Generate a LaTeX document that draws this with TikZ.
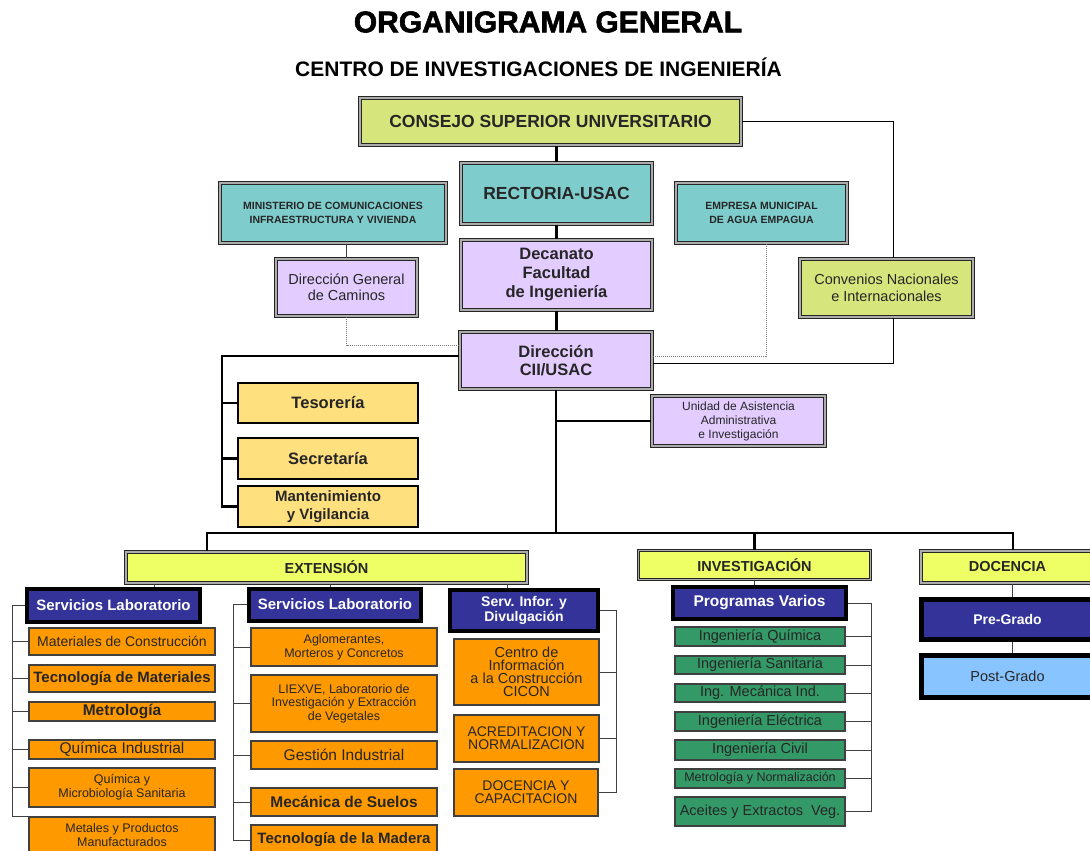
\documentclass[tikz,border=0pt]{standalone}
\usepackage{fontspec}
\setmainfont{Liberation Sans}
\newfontfamily\gruesa[FakeBold=2]{Liberation Sans Bold}
\usetikzlibrary{positioning,calc}

\definecolor{verdeclaro}{HTML}{D6E67C}
\definecolor{turquesa}{HTML}{7FCCCC}
\definecolor{lila}{HTML}{E3CCFF}
\definecolor{crema}{HTML}{FFE07F}
\definecolor{amarillo}{HTML}{EEFF66}
\definecolor{azul}{HTML}{333399}
\definecolor{naranja}{HTML}{FF9900}
\definecolor{verde}{HTML}{339966}
\definecolor{celeste}{HTML}{88C4FF}

\newcommand{\fz}[2]{\fontsize{#1}{#2}\selectfont}

\begin{document}
\begin{tikzpicture}[x=1pt,y=-1pt]
                        \tikzstyle{every node}=[inner sep=0,align=center,text=black!85]
                        \tikzstyle{doble}=[draw=black!85,double=gray!65,double distance=1.3pt,line width=1.1pt]
                        \tikzstyle{grueso}=[draw=black,line width=2.6pt,fill=crema,minimum width=180]
                        \tikzstyle{marco}=[draw=black,line width=4pt,fill=azul,text=white]
                        \tikzstyle{caja}=[draw=black!75,line width=1.1pt,fill=naranja]
                        \tikzstyle{prog}=[draw=black!75,line width=1.1pt,fill=verde,minimum width=170,font=\fz{14.5}{15}]
                        \tikzstyle{nivel}=[doble,fill=amarillo,font=\fz{14.5}{16}\bfseries]
                        \tikzstyle{tronco}=[draw=black,line width=2.6pt]
                        \tikzstyle{rama}=[draw=black!75,line width=0.9pt]
                        \tikzstyle{punteado}=[draw=gray,line width=0.9pt,dash pattern=on 1pt off 1pt]
                        {
                            \useasboundingbox (0,0) rectangle (1090,851);

                            \node[font=\fz{30}{32}\gruesa,text=black] (titulo) at (548,22) {ORGANIGRAMA GENERAL};
                            \node[font=\fz{21}{24}\bfseries,text=black] (subtitulo) at (538.5,67) {CENTRO DE INVESTIGACIONES DE INGENIERÍA};

                            % autoridades
                            \node[doble,fill=verdeclaro,minimum width=381,minimum height=47,font=\fz{17.5}{20}\bfseries] (consejo) at (550.5,121.5) {CONSEJO SUPERIOR UNIVERSITARIO};
                            \node[doble,fill=turquesa,minimum width=191,minimum height=61,font=\fz{17.5}{20}\bfseries] (rectoria) at (556.5,193.5) {RECTORIA-USAC};
                            \node[doble,fill=lila,minimum width=191,minimum height=70,font=\fz{16.5}{19}\bfseries] (decanato) at (556.5,275) {Decanato\\Facultad\\de Ingeniería};
                            \node[doble,fill=lila,minimum width=192,minimum height=57,font=\fz{16.5}{18}\bfseries] (direccion) at (556,360.5) {Dirección\\CII/USAC};
                            \node[doble,fill=turquesa,minimum width=226,minimum height=60,font=\fz{10.5}{14}\bfseries] (ministerio) at (333,213) {MINISTERIO DE COMUNICACIONES\\INFRAESTRUCTURA Y VIVIENDA};
                            \node[doble,fill=lila,minimum width=141,minimum height=57,font=\fz{14.5}{16}] (caminos) at (346.5,287.5) {Dirección General\\de Caminos};
                            \node[doble,fill=turquesa,minimum width=171,minimum height=60,font=\fz{10.5}{14}\bfseries] (empagua) at (761.5,213) {EMPRESA MUNICIPAL\\DE AGUA EMPAGUA};
                            \node[doble,fill=verdeclaro,minimum width=173,minimum height=58,font=\fz{14.5}{17}] (convenios) at (886.5,288) {Convenios Nacionales\\e Internacionales};
                            \node[doble,fill=lila,minimum width=173,minimum height=50,font=\fz{12}{14}] (unidad) at (738.5,421) {Unidad de Asistencia\\Administrativa\\e Investigación};

                            \node[grueso,minimum height=40,font=\fz{16.5}{19}\bfseries] (tesoreria) at (328,403) {Tesorería};
                            \node[grueso,minimum height=41,font=\fz{16.5}{19}\bfseries] (secretaria) at (328,458.5) {Secretaría};
                            \node[grueso,minimum height=41,font=\fz{15}{18}\bfseries] (mantenim) at (328,506.5) {Mantenimiento\\y Vigilancia};

                            % niveles
                            \node[nivel,minimum width=401,minimum height=31] (extension) at (326.5,567.5) {EXTENSIÓN};
                            \node[nivel,minimum width=232,minimum height=29] (investigacion) at (754.5,565) {INVESTIGACIÓN};
                            \node[nivel,minimum width=173,minimum height=32] (docencia) at (1007.5,567) {DOCENCIA};

                            % extension
                            \node[marco,minimum width=173,minimum height=33,font=\fz{15}{17}\bfseries] (servlab1) at (113.5,605.5) {Servicios Laboratorio};
                            \node[caja,minimum width=186,minimum height=27,font=\fz{14}{16}] (matcons) at (122,641.5) {Materiales de Construcción};
                            \node[caja,minimum width=186,minimum height=27,font=\fz{15}{17}\bfseries] (tecmat) at (122,678.5) {Tecnología de Materiales};
                            \node[caja,minimum width=186,minimum height=19,font=\fz{15.5}{17}\bfseries] (metro) at (122,711.5) {Metrología};
                            \node[caja,minimum width=186,minimum height=19,font=\fz{15.5}{17}] (quimind) at (122,749.5) {Química Industrial};
                            \node[caja,minimum width=186,minimum height=39,font=\fz{12.5}{14}] (quimmic) at (122,787.5) {Química y\\Microbiología Sanitaria};
                            \node[caja,minimum width=186,minimum height=36,font=\fz{12.5}{14}] (metales) at (122,835) {Metales y Productos\\Manufacturados};

                            \node[marco,minimum width=172,minimum height=32,font=\fz{15}{17}\bfseries] (servlab2) at (335,604.5) {Servicios Laboratorio};
                            \node[caja,minimum width=186,minimum height=38,font=\fz{12.5}{14}] (aglo) at (344,647) {Aglomerantes,\\Morteros y Concretos};
                            \node[caja,minimum width=186,minimum height=57,font=\fz{12.5}{13.5}] (liexve) at (344,703.5) {LIEXVE, Laboratorio de\\Investigación y Extracción\\de Vegetales};
                            \node[caja,minimum width=186,minimum height=28,font=\fz{15.5}{17}] (gestion) at (344,755) {Gestión Industrial};
                            \node[caja,minimum width=186,minimum height=28,font=\fz{15.5}{17}\bfseries] (suelos) at (344,802) {Mecánica de Suelos};
                            \node[caja,minimum width=186,minimum height=30,font=\fz{15}{17}\bfseries] (madera) at (344,840) {Tecnología de la Madera};

                            \node[marco,minimum width=148,minimum height=41,font=\fz{14}{15}\bfseries] (servinfo) at (524,610.5) {Serv. Infor. y\\Divulgación};
                            \node[caja,minimum width=145,minimum height=66,font=\fz{14.5}{13}] (cicon) at (526.5,672) {Centro de\\Información\\a la Construcción\\CICON};
                            \node[caja,minimum width=145,minimum height=47,font=\fz{14}{13}] (acred) at (526.5,738.5) {ACREDITACION Y\\NORMALIZACION};
                            \node[caja,minimum width=144,minimum height=47,font=\fz{14}{13}] (docap) at (526,792.5) {DOCENCIA Y\\CAPACITACION};

                            % investigacion
                            \node[marco,minimum width=173,minimum height=32,font=\fz{15.5}{17}\bfseries] (programas) at (759.5,603) {Programas Varios};
                            \node[prog,minimum height=19] (iq) at (760,636.5) {Ingeniería Química};
                            \node[prog,minimum height=18] (isan) at (760,665) {Ingeniería Sanitaria};
                            \node[prog,minimum height=18] (imi) at (760,693) {Ing. Mecánica Ind.};
                            \node[prog,minimum height=19] (iel) at (760,721.5) {Ingeniería Eléctrica};
                            \node[prog,minimum height=20] (icv) at (760,750) {Ingeniería Civil};
                            \node[prog,minimum height=19,font=\fz{12.5}{14}] (imn) at (760,778.5) {Metrología y Normalización};
                            \node[prog,minimum height=29] (iav) at (760,811.5) {Aceites y Extractos\ \ Veg.};

                            % docencia
                            \node[marco,line width=5pt,minimum width=173,minimum height=40,font=\fz{14}{16}\bfseries] (pregrado) at (1007.5,619) {Pre-Grado};
                            \node[draw=black,line width=5pt,fill=celeste,minimum width=173,minimum height=42,font=\fz{14.5}{16}] (postgrado) at (1007.5,676) {Post-Grado};

                            % lineas de mando
                            \coordinate (bus) at (556,533);
                            \coordinate (busL) at (207,533);
                            \coordinate (busR) at (1013,533);
                            \coordinate (adm) at (222,356);

                            \draw[tronco] (rectoria.north) -- (rectoria.north |- consejo.south);
                            \draw[tronco] (rectoria.south) -- (decanato.north);
                            \draw[tronco] (decanato.south) -- (direccion.north -| decanato.south);
                            \draw[tronco] (direccion.south) -- (bus);
                            \draw[tronco] (busL |- extension.north) -- (busL) -- (busR) -- (busR |- docencia.north);
                            \draw[tronco] (investigacion.north) -- (investigacion.north |- bus);
                            \draw[tronco] ([yshift=4.5pt]direccion.west) -- (adm) -- (adm |- mantenim.west) -- (mantenim.west);
                            \foreach \n in {tesoreria,secretaria}
                                \draw[tronco] (\n.west) -- (adm |- \n.west);
                            \draw[tronco] (unidad.west) -- (unidad.west -| bus);

                            % coordinacion
                            \draw[rama,draw=black] (consejo.east) -| ([xshift=6.5pt]convenios.north);
                            \draw[rama,draw=black] ([xshift=7pt]convenios.south) |- ([yshift=-2.5pt]direccion.east);
                            \draw[punteado] ([xshift=4.5pt]empagua.south) |- ([yshift=4.5pt]direccion.east);
                            \draw[rama] (caminos.north) -- (caminos.north |- ministerio.south);
                            \draw[punteado] (caminos.south) |- ([yshift=15.5pt]direccion.west);

                            \draw[rama] ([xshift=40.5pt]servlab1.north) -- ([xshift=40.5pt]servlab1.north |- extension.south);
                            \draw[rama] ([xshift=-5pt]servlab2.north) -- ([xshift=-5pt]servlab2.north |- extension.south);
                            \draw[rama] ([xshift=-17pt]servinfo.north) -- ([xshift=-17pt]servinfo.north |- extension.south);

                            \coordinate (c1) at (12,0);
                            \draw[rama] (servlab1.west) -| (c1 |- metales.north west) -- (metales.north west);
                            \foreach \n in {matcons,tecmat,metro,quimind,quimmic}
                                \draw[rama] (\n.west) -- (c1 |- \n.west);

                            \coordinate (c2) at (233,0);
                            \draw[rama] (servlab2.west) -| (c2 |- madera.west) -- (madera.west);
                            \foreach \n in {aglo,liexve,gestion,suelos}
                                \draw[rama] (\n.west) -- (c2 |- \n.west);

                            \coordinate (c3) at (616,0);
                            \draw[rama] (servinfo.east) -| (c3 |- docap.east) -- (docap.east);
                            \foreach \n in {cicon,acred}
                                \draw[rama] (\n.east) -- (c3 |- \n.east);

                            \draw[rama] (investigacion.south) -- (investigacion.south |- programas.north);
                            \coordinate (c4) at (871,0);
                            \draw[rama] (programas.east) -| (c4 |- iav.east) -- (iav.east);
                            \foreach \n in {iq,isan,imi,iel,icv,imn}
                                \draw[rama] (\n.east) -- (c4 |- \n.east);

                            \draw[rama] ([xshift=4.5pt]docencia.south) -- ([xshift=4.5pt]pregrado.north);
                            \draw[rama] ([xshift=4.5pt]pregrado.south) -- ([xshift=4.5pt]postgrado.north);
                        }
                    \end{tikzpicture}
\end{document}
